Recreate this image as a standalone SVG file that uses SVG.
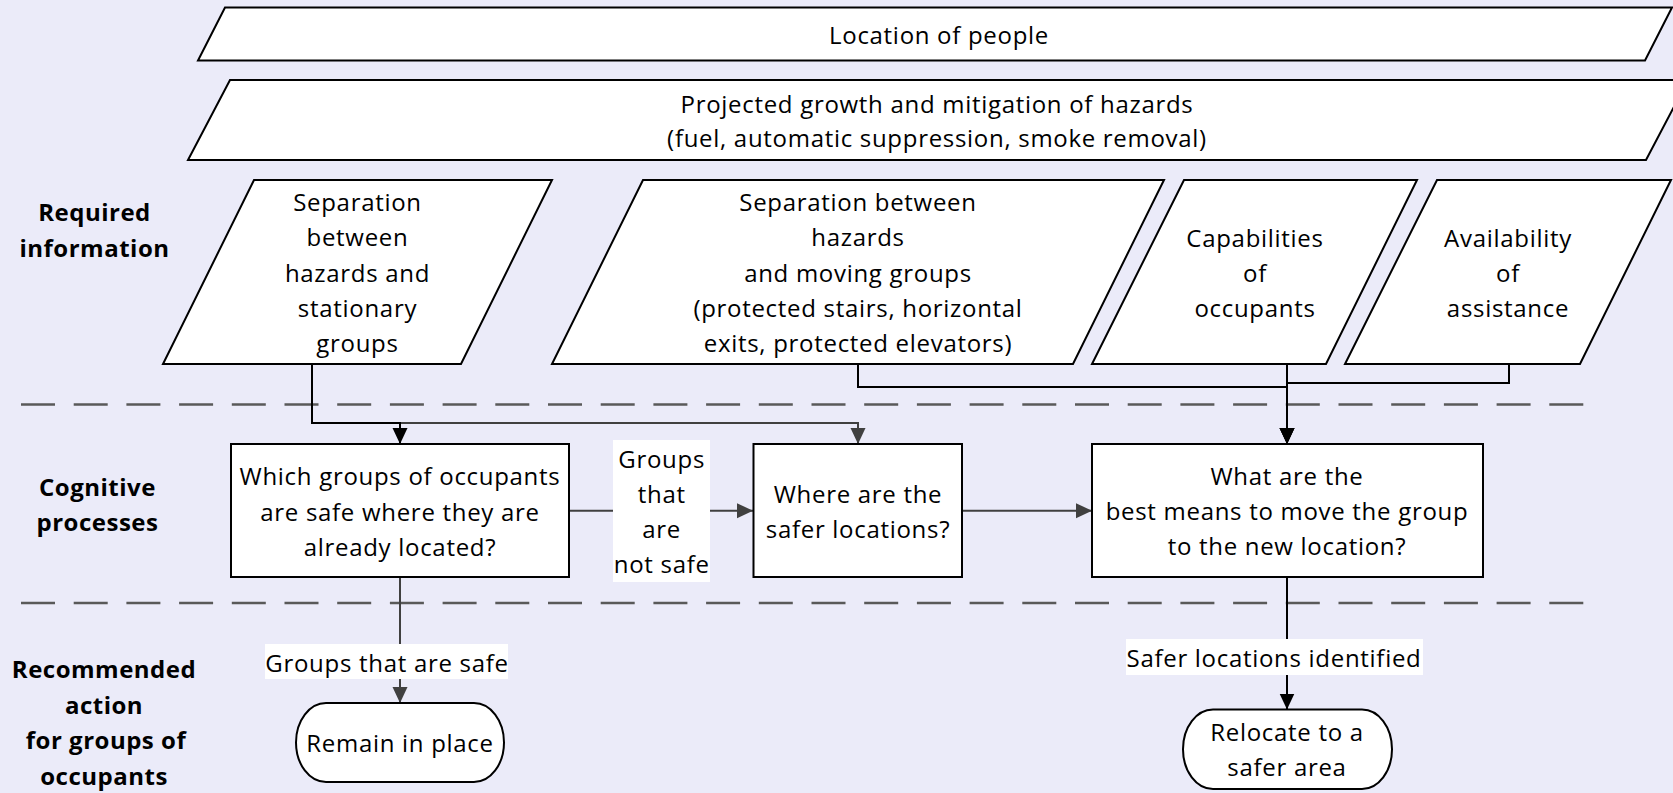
<svg xmlns="http://www.w3.org/2000/svg" width="1673" height="793" viewBox="0 0 1673 793">
<style>
.bg{fill:#EBEBF9}
.shape{fill:#fff;stroke:#000;stroke-width:2;stroke-linejoin:miter}
.t{font-family:"Open Sans","Liberation Sans",sans-serif;font-size:24px;letter-spacing:0.7px;fill:#000;text-anchor:middle}
.b{font-family:"Open Sans","Liberation Sans",sans-serif;font-size:24px;font-weight:700;letter-spacing:0.5px;fill:#000;text-anchor:middle}
.dash{stroke:#595959;stroke-width:2.5;stroke-dasharray:34 18.7;fill:none}
.cb{fill:none;stroke:#000;stroke-width:2}
.cg{fill:none;stroke:#404040;stroke-width:2}
.lbl{fill:#fff}
</style>
<defs>
<marker id="ab" markerUnits="userSpaceOnUse" markerWidth="16" markerHeight="16" refX="16" refY="8" orient="auto">
<path d="M0,0.5 L16,8 L0,15.5 Z" fill="#000"/>
</marker>
<marker id="ag" markerUnits="userSpaceOnUse" markerWidth="16" markerHeight="16" refX="16" refY="8" orient="auto">
<path d="M0,0.5 L16,8 L0,15.5 Z" fill="#404040"/>
</marker>
</defs>
<rect class="bg" x="0" y="0" width="1673" height="793"/>

<g id="lanes">
<line class="dash" x1="21" y1="404.5" x2="1587" y2="404.5"/>
<line class="dash" x1="21" y1="603" x2="1587" y2="603"/>
<text class="b" x="94.5" y="221">Required</text>
<text class="b" x="94.5" y="257">information</text>
<text class="b" x="97.5" y="496">Cognitive</text>
<text class="b" x="97.5" y="531">processes</text>
<text class="b" x="104" y="678">Recommended</text>
<text class="b" x="104" y="714">action</text>
<text class="b" x="106" y="749">for groups of</text>
<text class="b" x="104" y="785">occupants</text>
</g>

<g id="connectors">
<path class="cg" d="M312,364 V423 H858 V444" marker-end="url(#ag)"/>
<path class="cb" d="M312,364 V423 H400 V444" marker-end="url(#ab)"/>
<path class="cb" d="M858,364 V387 H1287 V444" marker-end="url(#ab)"/>
<path class="cb" d="M1287,364 V444" marker-end="url(#ab)"/>
<path class="cb" d="M1509,364 V383 H1287 V444" marker-end="url(#ab)"/>
<path class="cg" d="M569,510.7 H753" marker-end="url(#ag)"/>
<path class="cg" d="M962,510.7 H1092" marker-end="url(#ag)"/>
<path class="cg" d="M400,577 V703" marker-end="url(#ag)"/>
<path class="cb" d="M1287,577 V709.5" marker-end="url(#ab)"/>
<rect class="lbl" x="613" y="440" width="97" height="142"/>
<text class="t" x="661.7" y="468.3">Groups</text>
<text class="t" x="661.7" y="502.5">that</text>
<text class="t" x="661.7" y="537.7">are</text>
<text class="t" x="661.7" y="573">not safe</text>
<rect class="lbl" x="265" y="644" width="243" height="35"/>
<text class="t" x="387" y="671.5">Groups that are safe</text>
<rect class="lbl" x="1126" y="639" width="297" height="36"/>
<text class="t" x="1274" y="666.5">Safer locations identified</text>
</g>

<g id="location-of-people">
<path class="shape" d="M225,7.5 L1672,7.5 L1645,60.5 L198,60.5 Z"/>
<text class="t" x="939" y="43.5">Location of people</text>
</g>

<g id="projected-growth">
<path class="shape" d="M230,80 L1688,80 L1646,160 L188,160 Z"/>
<text class="t" x="937" y="113">Projected growth and mitigation of hazards</text>
<text class="t" x="937" y="147">(fuel, automatic suppression, smoke removal)</text>
</g>

<g id="sep-stationary">
<path class="shape" d="M254,180 L552,180 L461,364 L163,364 Z"/>
<text class="t" x="357.5" y="210.7">Separation</text>
<text class="t" x="357.5" y="246">between</text>
<text class="t" x="357.5" y="281.5">hazards and</text>
<text class="t" x="357.5" y="316.7">stationary</text>
<text class="t" x="357.5" y="351.7">groups</text>
</g>

<g id="sep-moving">
<path class="shape" d="M643,180 L1164,180 L1073,364 L552,364 Z"/>
<text class="t" x="858" y="210.7">Separation between</text>
<text class="t" x="858" y="246">hazards</text>
<text class="t" x="858" y="281.5">and moving groups</text>
<text class="t" x="858" y="316.7">(protected stairs, horizontal</text>
<text class="t" x="858" y="351.7">exits, protected elevators)</text>
</g>

<g id="capabilities">
<path class="shape" d="M1184,180 L1417,180 L1326,364 L1092,364 Z"/>
<text class="t" x="1255" y="247">Capabilities</text>
<text class="t" x="1255" y="282">of</text>
<text class="t" x="1255" y="317">occupants</text>
</g>

<g id="availability">
<path class="shape" d="M1437,180 L1671,180 L1580,364 L1345,364 Z"/>
<text class="t" x="1508" y="247">Availability</text>
<text class="t" x="1508" y="282">of</text>
<text class="t" x="1508" y="317">assistance</text>
</g>

<g id="which-groups-safe">
<rect class="shape" x="231" y="444" width="338" height="133"/>
<text class="t" x="400" y="485">Which groups of occupants</text>
<text class="t" x="400" y="520.5">are safe where they are</text>
<text class="t" x="400" y="555.7">already located?</text>
</g>

<g id="safer-locations">
<rect class="shape" x="753.5" y="444" width="208.5" height="133"/>
<text class="t" x="858" y="503.3">Where are the</text>
<text class="t" x="858" y="538.3">safer locations?</text>
</g>

<g id="best-means">
<rect class="shape" x="1092" y="444" width="391" height="133"/>
<text class="t" x="1287" y="485">What are the</text>
<text class="t" x="1287" y="520">best means to move the group</text>
<text class="t" x="1287" y="555">to the new location?</text>
</g>

<g id="remain-in-place">
<rect class="shape" x="296" y="703" width="208" height="79" rx="30" ry="39.5"/>
<text class="t" x="400" y="751.5">Remain in place</text>
</g>

<g id="relocate">
<rect class="shape" x="1183" y="709.5" width="209" height="79.5" rx="30" ry="39.75"/>
<text class="t" x="1287" y="740.7">Relocate to a</text>
<text class="t" x="1287" y="776">safer area</text>
</g>
</svg>
